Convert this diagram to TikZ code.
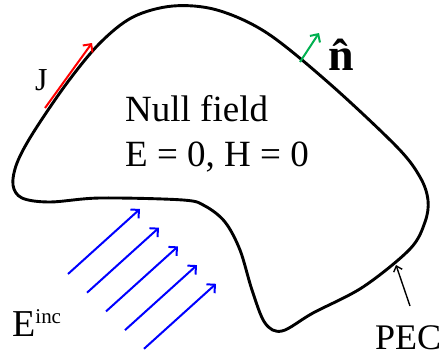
\documentclass[tikz,border=0pt]{standalone}
\usepackage{fontspec}
\setmainfont{Liberation Serif}
\usetikzlibrary{arrows.meta}
\definecolor{current}{HTML}{FF0000}
\definecolor{normal}{HTML}{00B050}
\definecolor{incident}{HTML}{0000FF}

\begin{document}
\begin{tikzpicture}[x=1pt, y=-1pt,
    boundary/.style={line width=2.9pt, line join=round},
    vec/.style={-{Straight Barb[length=6pt, width=12pt]}, line width=2pt},
    lbl/.style={anchor=base west, inner sep=0pt},
  ]
  \useasboundingbox (0,0) rectangle (445,356);

  % PEC body
  \draw[boundary] plot[smooth cycle, tension=0.55] coordinates {
      (173,6) (217,10) (267,33) (330,84) (397,147) (420,177) (428,200)
      (425,222) (410,249) (363,287) (313,313) (282,331) (265,323)
      (252,290) (240,250) (225,222) (205,206) (183,200) (100,198)
      (50,202) (22,198) (13,185) (17,163) (33,133) (67,83) (100,43)
      (133,17)};

  \node[lbl, font=\fontsize{37}{37}\selectfont] (nullfield) at (125,121) {Null field};
  \node[lbl, font=\fontsize{37}{37}\selectfont] (fields) at (125,166) {E = 0, H = 0};

  % surface current and normal
  \coordinate (jtail) at (45,108);
  \coordinate (jhead) at (92,43);
  \draw[vec, current] (jtail) -- (jhead);
  \node[lbl, font=\fontsize{32}{32}\selectfont] (jlabel) at (35,90) {J};

  \coordinate (ntail) at (300,62);
  \coordinate (nhead) at (319,33);
  \draw[vec, normal] (ntail) -- (nhead);
  \node[lbl, font=\fontsize{46}{46}\selectfont\bfseries] (nlabel) at (328,70) {n̂};

  % incident field
  \foreach \i in {0,...,4}
    \draw[vec, incident] (68+19*\i, 274+18.7*\i) -- (140+19*\i, 209+18.7*\i);
  \node[lbl, font=\fontsize{38}{38}\selectfont] (einc) at (12,336)
    {E\raisebox{13pt}{\fontsize{21}{21}\selectfont inc}};

  % PEC label
  \node[lbl, font=\fontsize{36}{36}\selectfont] (pec) at (375,349) {PEC};
  \coordinate (pectail) at (410,306);
  \coordinate (pectip) at (396,265);
  \draw[-{Straight Barb[length=5pt, width=9pt]}, line width=1.4pt] (pectail) -- (pectip);
\end{tikzpicture}
\end{document}
